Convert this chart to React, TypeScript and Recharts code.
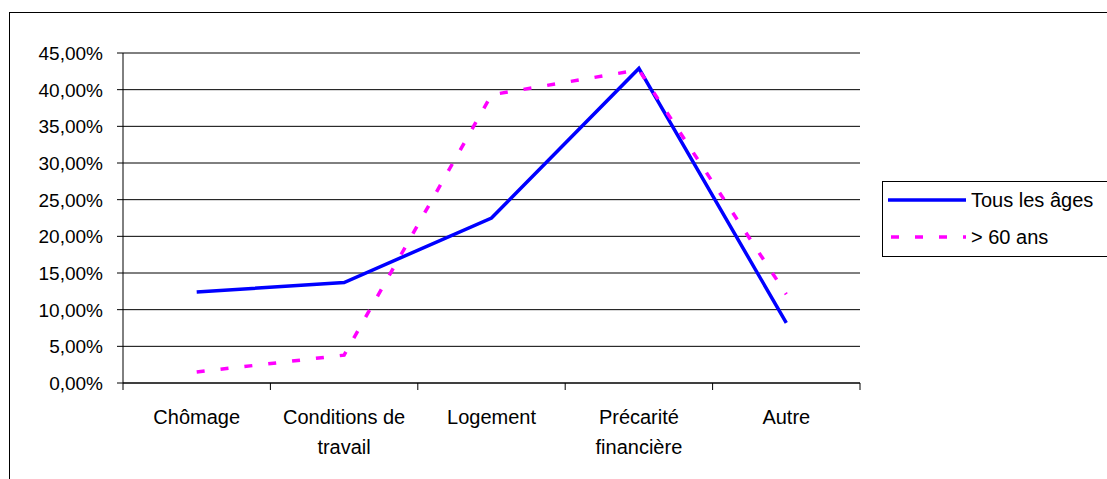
import React from 'react';
import { LineChart, Line, XAxis, YAxis, CartesianGrid, Legend, ReferenceLine } from 'recharts';

const categories = ['Chômage', 'Conditions de\ntravail', 'Logement', 'Précarité\nfinancière', 'Autre'];
const tousLesAges = [12.4, 13.7, 22.5, 42.9, 8.2];
const plus60 = [1.5, 3.8, 39.3, 42.7, 12.1];
const seriesNames = ['Tous les âges', '> 60 ans'];
const seriesKeys = ['tous', 'plus60'];
const seriesColors = ['#0000FF', '#FF00FF'];
const seriesDash = ['', '8 16'];
const yTicks = [0, 5, 10, 15, 20, 25, 30, 35, 40, 45];

// category slots: boundaries at integers, labels at slot centres
const data = categories.map((c, i) => ({ pos: i + 0.5, cat: c, tous: tousLesAges[i], plus60: plus60[i] }));
const xTicks = [0, ...categories.flatMap((_, i) => [i + 0.5, i + 1])];

const FONT = '"Liberation Sans", Arial, sans-serif';

const fmt = (v: number) => `${v.toFixed(2).replace('.', ',')}%`;

const CatTick = (props: any) => {
  const { x, y, payload } = props;
  const v = Number(payload.value);
  if (Number.isInteger(v)) {
    return <line x1={x} x2={x} y1={y} y2={y + 7} stroke="#000" strokeWidth={1} />;
  }
  const lines = String(categories[Math.floor(v)]).split('\n');
  return (
    <text x={x} y={y} textAnchor="middle" fontSize={20} fill="#000" fontFamily={FONT}>
      {lines.map((l, i) => (
        <tspan key={i} x={x} dy={i === 0 ? 41 : 30}>
          {l}
        </tspan>
      ))}
    </text>
  );
};

const ValTick = (props: any) => {
  const { x, y, payload } = props;
  return (
    <text x={x} y={y} dy="0.36em" textAnchor="end" fontSize={19} fill="#000" fontFamily={FONT}>
      {fmt(Number(payload.value))}
    </text>
  );
};

const renderLegend = () => (
  <div
    style={{
      position: 'relative',
      width: 260,
      height: 76,
      border: '1px solid #000',
      background: '#fff',
      boxSizing: 'border-box',
    }}
  >
    <svg width={260} height={76} style={{ position: 'absolute', left: 0, top: 0 }}>
      {seriesNames.map((n, i) => {
        const cy = 18 + i * 37;
        return (
          <g key={n}>
            <line
              x1={i === 0 ? 5 : 8}
              x2={83}
              y1={cy}
              y2={cy}
              stroke={seriesColors[i]}
              strokeWidth={3.5}
              strokeDasharray={seriesDash[i] || undefined}
            />
            <text x={88} y={cy} dy="0.35em" fontSize={20} fill="#000" fontFamily={FONT}>
              {n}
            </text>
          </g>
        );
      })}
    </svg>
  </div>
);

export default function App() {
  return (
    <div
      style={{
        position: 'fixed',
        left: 0,
        top: 0,
        width: 1107,
        height: 479,
        overflow: 'hidden',
        background: '#fff',
        fontFamily: FONT,
      }}
    >
      <div
        style={{
          position: 'absolute',
          left: 9,
          top: 12,
          width: 1200,
          height: 600,
          border: '1px solid #000',
          boxSizing: 'border-box',
        }}
      />
      <div style={{ position: 'absolute', left: 0, top: 0 }}>
        <LineChart width={1107} height={479} data={data} margin={{ top: 53, right: 247, bottom: 0, left: 0 }}>
          <CartesianGrid vertical={false} stroke="#000" strokeWidth={1} />
          <XAxis
            dataKey="pos"
            type="number"
            domain={[0, 5]}
            ticks={xTicks}
            interval={0}
            height={96}
            tickLine={false}
            tickSize={0}
            tickMargin={0}
            axisLine={{ stroke: '#000' }}
            tick={<CatTick />}
            allowDataOverflow
          />
          <YAxis
            domain={[0, 45]}
            ticks={yTicks}
            width={123}
            tickSize={6}
            tickMargin={14}
            axisLine={{ stroke: '#000' }}
            tickLine={{ stroke: '#000' }}
            tick={<ValTick />}
            interval={0}
          />
          <YAxis
            yAxisId="r"
            orientation="right"
            domain={[0, 45]}
            width={0}
            tick={false}
            tickLine={false}
            axisLine={{ stroke: '#808080' }}
          />
          <ReferenceLine y={45} stroke="#808080" strokeWidth={1} />
          {seriesKeys.map((k, i) => (
            <Line
              key={k}
              dataKey={k}
              name={seriesNames[i]}
              type="linear"
              stroke={seriesColors[i]}
              strokeWidth={3.5}
              strokeDasharray={seriesDash[i] || undefined}
              dot={false}
              activeDot={false}
              isAnimationActive={false}
            />
          ))}
          <Legend
            layout="vertical"
            align="center"
            verticalAlign="middle"
            wrapperStyle={{ left: 882, top: 181, width: 260, height: 76 }}
            content={renderLegend}
          />
        </LineChart>
      </div>
    </div>
  );
}
